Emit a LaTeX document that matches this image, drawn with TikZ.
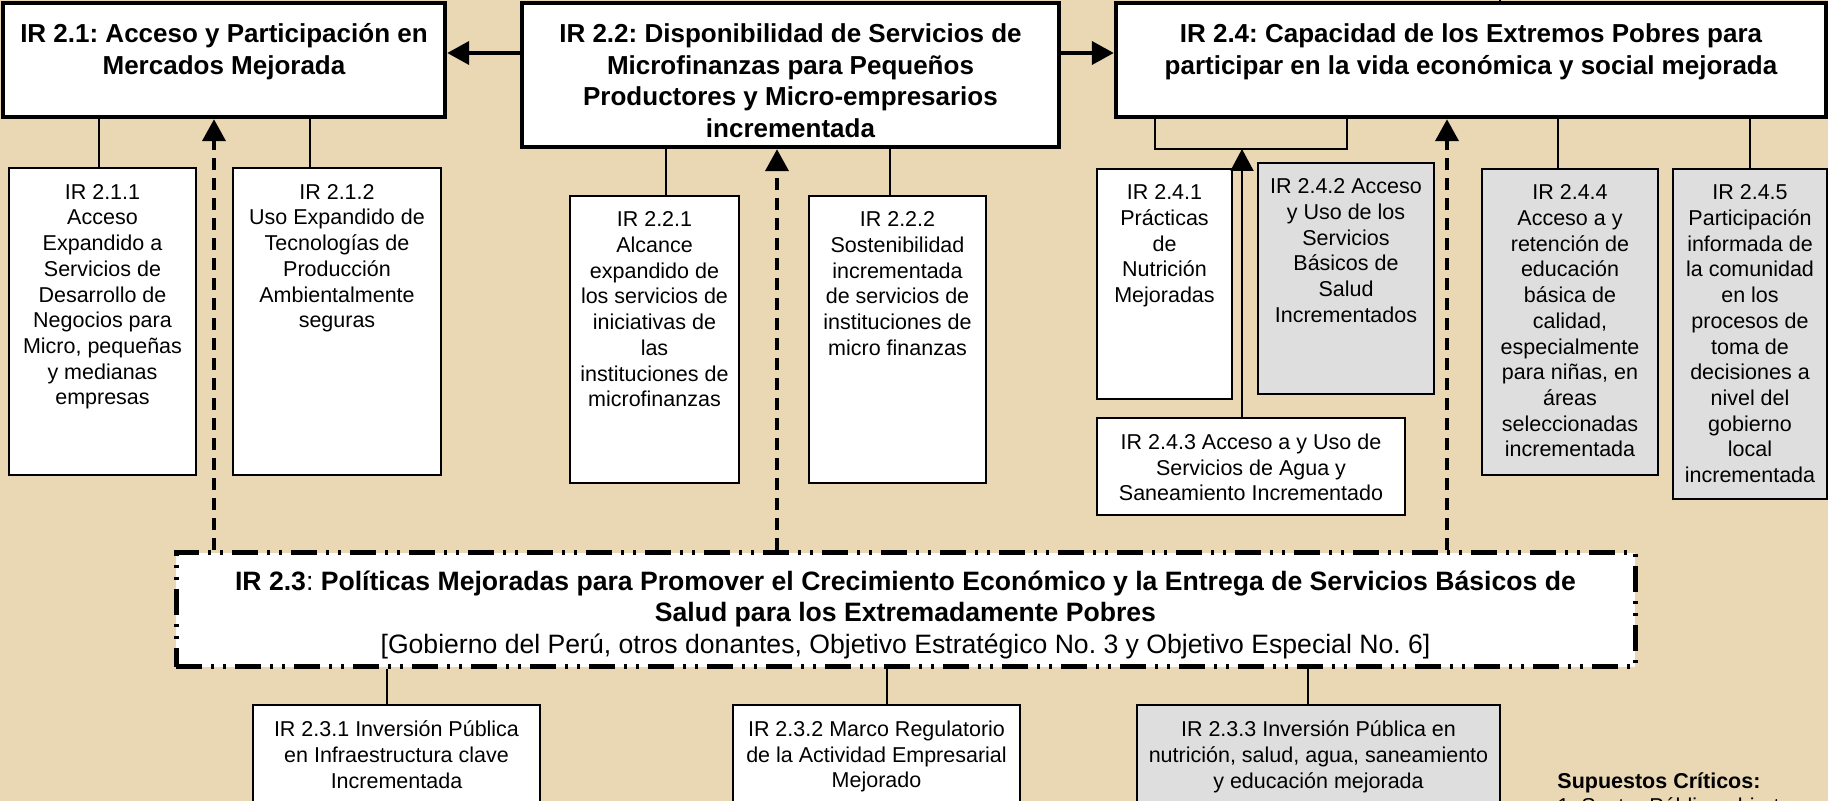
\documentclass[tikz,border=0pt]{standalone}
\usepackage{fontspec}
\setmainfont{Liberation Sans}
\usepackage{tikz}
\usetikzlibrary{arrows.meta,fit}
\frenchspacing

\definecolor{parchment}{RGB}{233,216,179}
\definecolor{boxgray}{RGB}{222,222,222}

\begin{document}
\begin{tikzpicture}[x=0.5pt, y=-0.5pt,
    topbox/.style={draw, line width=2.2pt, fill=white, inner sep=0pt},
    subbox/.style={draw, line width=1pt, fill=white, inner sep=0pt},
    graybox/.style={subbox, fill=boxgray},
    polbox/.style={draw, line width=2.5pt, fill=white, inner sep=0pt,
        dash pattern=on 13pt off 4.5pt on 1.5pt off 4.5pt on 1.5pt off 4.5pt},
    bigtext/.style={anchor=north, align=center, inner sep=0pt,
        font=\fontsize{13pt}{15.8pt}\selectfont\bfseries},
    poltext/.style={anchor=north, align=center, inner sep=0pt,
        font=\fontsize{13.3pt}{15.75pt}\selectfont},
    smalltext/.style={anchor=north, align=center, inner sep=0pt,
        font=\fontsize{10.75pt}{12.85pt}\selectfont},
    link/.style={line width=1pt},
    mainarrow/.style={line width=2pt, -{Triangle[length=11pt,width=11.5pt]}},
    dasharrow/.style={mainarrow, dash pattern=on 6pt off 4pt},
    thinarrow/.style={line width=1pt, -{Triangle[length=11pt,width=11.5pt]}}
]
    % Page and background
    \useasboundingbox (0,0) rectangle (1828,801);
    \clip (0,0) rectangle (1828,801);
    \fill[parchment] (0,0) rectangle (1828,801);

    % Top row of results
    \node[topbox, fit={(3,3)(445,117)}] (b21) {};
    \node[bigtext] (t21) at ([yshift=-11.2pt]b21.north) {IR 2.1: Acceso y Participación en\\Mercados Mejorada};
    \node[topbox, fit={(522,3)(1059,147)}] (b22) {};
    \node[bigtext] (t22) at ([yshift=-11.2pt]b22.north) {IR 2.2: Disponibilidad de Servicios de\\Microfinanzas para Pequeños\\Productores y Micro-empresarios\\incrementada};
    \node[topbox, fit={(1116,3)(1826,117)}] (b24) {};
    \node[bigtext] (t24) at ([yshift=-11.2pt]b24.north) {IR 2.4: Capacidad de los Extremos Pobres para\\participar en la vida económica y social mejorada};

    % Arrows between the top boxes
    \coordinate (ay) at (0,53);
    \draw[mainarrow] (b22.west |- ay) -- (b21.east |- ay);
    \draw[mainarrow] (b22.east |- ay) -- (b24.west |- ay);
    \coordinate (up) at (1500,0);
    \draw[link] (b24.north -| up) -- (up);

    % Sub results of IR 2.1
    \node[subbox, fit={(9,168)(196,475)}] (b211) {};
    \node[smalltext] (t211) at ([yshift=-8.4pt]b211.north) {IR 2.1.1\\Acceso\\Expandido a\\Servicios de\\Desarrollo de\\Negocios para\\Micro, pequeñas\\y medianas\\empresas};
    \node[subbox, fit={(233,168)(441,475)}] (b212) {};
    \node[smalltext] (t212) at ([yshift=-8.4pt]b212.north) {IR 2.1.2\\Uso Expandido de\\Tecnologías de\\Producción\\Ambientalmente\\seguras};
    \coordinate (k211) at (99,0);
    \coordinate (k212) at (310,0);
    \draw[link] (b21.south -| k211) -- (b211.north -| k211);
    \draw[link] (b21.south -| k212) -- (b212.north -| k212);

    % Sub results of IR 2.2
    \node[subbox, fit={(570,196)(739,483)}] (b221) {};
    \node[smalltext] (t221) at ([yshift=-8.2pt]b221.north) {IR 2.2.1\\Alcance\\expandido de\\los servicios de\\iniciativas de\\las\\instituciones de\\microfinanzas};
    \node[subbox, fit={(809,196)(986,483)}] (b222) {};
    \node[smalltext] (t222) at ([yshift=-8.2pt]b222.north) {IR 2.2.2\\Sostenibilidad\\incrementada\\de servicios de\\instituciones de\\micro finanzas};
    \coordinate (k221) at (666,0);
    \coordinate (k222) at (890,0);
    \draw[link] (b22.south -| k221) -- (b221.north -| k221);
    \draw[link] (b22.south -| k222) -- (b222.north -| k222);

    % Sub results of IR 2.4
    \node[subbox, fit={(1097,169)(1232,399)}] (b241) {};
    \node[smalltext] (t241) at ([yshift=-8.2pt]b241.north) {IR 2.4.1\\Prácticas\\de\\Nutrición\\Mejoradas};
    \node[graybox, fit={(1258,163)(1434,394)}] (b242) {};
    \node[smalltext] (t242) at ([yshift=-8.2pt]b242.north) {IR 2.4.2 Acceso\\y Uso de los\\Servicios\\Básicos de\\Salud\\Incrementados};
    \node[subbox, fit={(1097,418)(1405,515)}] (b243) {};
    \node[smalltext] (t243) at ([yshift=-8.2pt]b243.north) {IR 2.4.3 Acceso a y Uso de\\Servicios de Agua y\\Saneamiento Incrementado};
    \node[graybox, fit={(1482,169)(1658,475)}] (b244) {};
    \node[smalltext] (t244) at ([yshift=-8.2pt]b244.north) {IR 2.4.4\\Acceso a y\\retención de\\educación\\básica de\\calidad,\\especialmente\\para niñas, en\\áreas\\seleccionadas\\incrementada};
    \node[graybox, fit={(1673,169)(1827,499)}] (b245) {};
    \node[smalltext] (t245) at ([yshift=-8.2pt]b245.north) {IR 2.4.5\\Participación\\informada de\\la comunidad\\en los\\procesos de\\toma de\\decisiones a\\nivel del\\gobierno\\local\\incrementada};

    % Bracket under IR 2.4 with arrow from IR 2.4.3
    \coordinate (brL) at (1155,149);
    \coordinate (brR) at (1347,149);
    \coordinate (brM) at (1242,149);
    \draw[link] (b24.south -| brL) -- (brL) -- (brR) -- (b24.south -| brR);
    \draw[thinarrow] (b243.north -| brM) -- (brM);
    \coordinate (k244) at (1558,0);
    \coordinate (k245) at (1750,0);
    \draw[link] (b24.south -| k244) -- (b244.north -| k244);
    \draw[link] (b24.south -| k245) -- (b245.north -| k245);

    % Policy box IR 2.3
    \node[polbox, fit={(176,553)(1635,667)}] (b23) {};
    \node[poltext] (t23) at ([yshift=-9.8pt]b23.north) {\textbf{IR 2.3}: \textbf{Políticas Mejoradas para Promover el Crecimiento Económico y la Entrega de Servicios Básicos de}\\\textbf{Salud para los Extremadamente Pobres}\\{[Gobierno del Perú, otros donantes, Objetivo Estratégico No. 3 y Objetivo Especial No. 6]}};

    % Dashed arrows from IR 2.3
    \coordinate (d21) at (214,0);
    \coordinate (d22) at (777,0);
    \coordinate (d24) at (1447,0);
    \draw[dasharrow] (b23.north -| d21) -- (b21.south -| d21);
    \draw[dasharrow] (b23.north -| d22) -- (b22.south -| d22);
    \draw[dasharrow] (b23.north -| d24) -- (b24.south -| d24);

    % Sub results of IR 2.3
    \node[subbox, fit={(253,705)(540,830)}] (b231) {};
    \node[smalltext] (t231) at ([yshift=-8.2pt]b231.north) {IR 2.3.1 Inversión Pública\\en Infraestructura clave\\Incrementada};
    \node[subbox, fit={(733,705)(1020,830)}] (b232) {};
    \node[smalltext] (t232) at ([yshift=-8.2pt]b232.north) {IR 2.3.2 Marco Regulatorio\\de la Actividad Empresarial\\Mejorado};
    \node[graybox, fit={(1137,705)(1500,830)}] (b233) {};
    \node[smalltext] (t233) at ([yshift=-8.2pt]b233.north) {IR 2.3.3 Inversión Pública en\\nutrición, salud, agua, saneamiento\\y educación mejorada};
    \coordinate (k231) at (387,0);
    \coordinate (k232) at (887,0);
    \coordinate (k233) at (1308,0);
    \draw[link] (b23.south -| k231) -- (b231.north -| k231);
    \draw[link] (b23.south -| k232) -- (b232.north -| k232);
    \draw[link] (b23.south -| k233) -- (b233.north -| k233);

    % Critical assumptions
    \node[smalltext, anchor=north west, align=left] (sup) at (1557,772) {\textbf{Supuestos Críticos:}\\1. Sector Público abierto a};
\end{tikzpicture}
\end{document}
